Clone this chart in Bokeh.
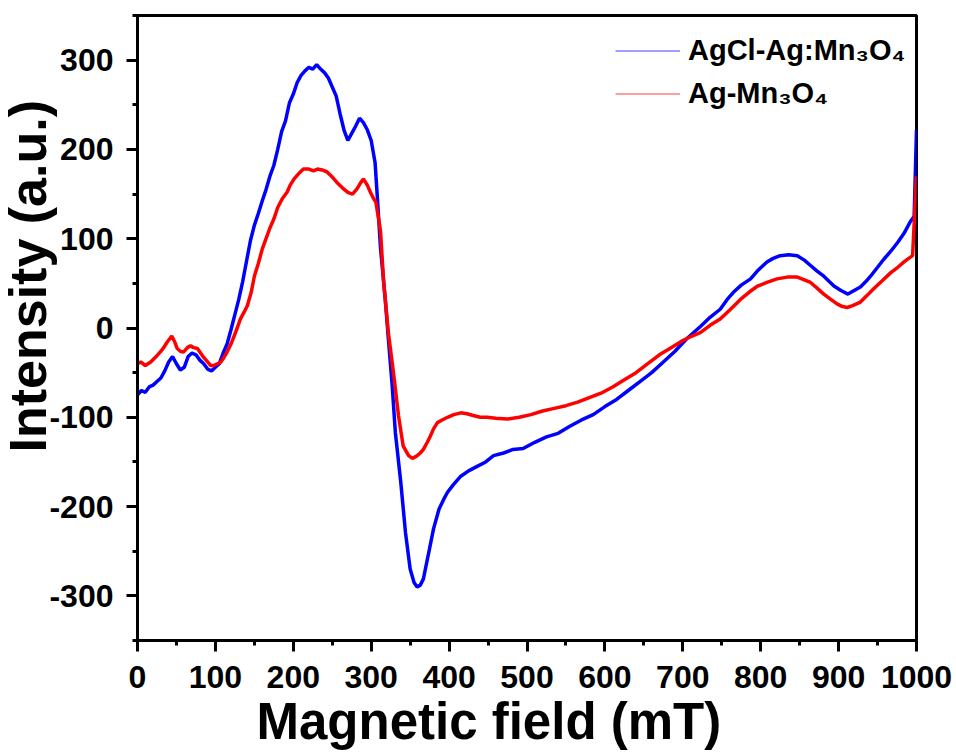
from bokeh.plotting import figure
from bokeh.models import Range1d, FixedTicker, Legend, LegendItem, Title
from bokeh.embed import file_html
from bokeh.resources import INLINE

# AgCl-Ag:Mn3O4 (blue)
blue_x = [0, 5, 10, 15, 20, 25, 30, 35, 40, 45, 50, 55, 60, 65, 70, 75, 80, 85, 90, 95,
          100, 105, 110, 115, 120, 125, 130, 135, 140, 145, 150, 155, 160, 165, 170, 175,
          180, 185, 190, 195, 200, 205, 210, 215, 220, 225, 230, 235, 240, 245, 250, 255,
          260, 265, 270, 275, 280, 285, 290, 295, 300, 305, 308, 312, 318, 322, 327, 331,
          338, 344, 350, 355, 359, 363, 367, 370, 374, 380, 387, 393, 398, 405, 415, 425,
          436, 447, 457, 470, 482, 495, 510, 525, 540, 555, 570, 585, 600, 615, 630, 645,
          660, 675, 690, 705, 723, 735, 748, 757, 765, 775, 787, 797, 808, 816, 825, 836,
          847, 856, 864, 872, 881, 888, 894, 903, 912, 920, 928, 935, 941, 950, 958, 967,
          976, 984, 992, 997, 1000]
blue_y = [-75, -70, -72, -66, -64, -60, -56, -48, -38, -32, -40, -47, -44, -32, -28, -30, -36, -40, -46, -48,
          -44, -40, -28, -18, -2, 15, 32, 52, 75, 98, 115, 128, 142, 155, 170, 182,
          200, 220, 232, 252, 262, 275, 283, 288, 292, 290, 295, 290, 286, 280, 270, 260,
          240, 222, 210, 218, 226, 235, 230, 222, 210, 185, 145, 89, 33, -12, -65, -117,
          -173, -229, -270, -285, -290, -288, -281, -268, -251, -225, -203, -192, -184, -176, -166, -160,
          -155, -150, -143, -140, -136, -135, -128, -122, -118, -110, -103, -97, -88, -80, -70, -60,
          -50, -38, -26, -12, 2, 12, 21, 32, 40, 48, 55, 65, 74, 78, 81, 82,
          81, 76, 70, 64, 58, 52, 47, 42, 38, 42, 46, 52, 58, 68, 77, 86,
          96, 106, 119, 125, 222]

# Ag-Mn3O4 (red)
red_x = [0, 4, 10, 17, 25, 32, 38, 44, 48, 51, 55, 59, 64, 68, 72, 77, 81, 85, 90, 94,
         98, 103, 107, 111, 115, 120, 124, 128, 132, 137, 141, 146, 150, 155, 160, 165,
         170, 175, 180, 186, 192, 196, 201, 207, 213, 220, 226, 231, 237, 243, 249, 256,
         263, 270, 276, 282, 286, 290, 295, 299, 303, 306, 309, 312, 316, 322, 329, 335,
         341, 348, 353, 359, 363, 367, 372, 376, 380, 385, 391, 398, 406, 415, 423, 431,
         440, 449, 460, 475, 490, 505, 520, 535, 550, 565, 580, 595, 610, 625, 640, 655,
         670, 685, 700, 712, 723, 735, 748, 760, 774, 785, 796, 808, 821, 834, 847, 856,
         864, 872, 881, 890, 898, 905, 911, 918, 928, 936, 945, 956, 967, 976, 984, 990,
         995, 1000]
red_y = [-40, -38, -42, -38, -31, -24, -16, -9, -16, -23, -26, -27, -22, -20, -22, -23, -28, -33, -38, -42,
         -42, -40, -38, -33, -27, -18, -9, 0, 10, 18, 25, 40, 58, 72, 88, 100,
         112, 122, 135, 145, 152, 160, 167, 173, 178, 178, 176, 178, 177, 175, 170, 163,
         157, 152, 150, 156, 162, 167, 160, 152, 145, 141, 125, 108, 51, -5, -53, -98,
         -132, -143, -146, -143, -140, -136, -128, -121, -113, -106, -103, -100, -97, -95, -96, -98,
         -100, -100, -101, -102, -100, -97, -93, -90, -87, -83, -78, -73, -66, -58, -50, -40,
         -30, -22, -14, -9, -5, 3, 10, 20, 32, 40, 47, 51, 55, 57, 57, 54,
         51, 45, 38, 32, 27, 24, 23, 25, 29, 36, 44, 53, 62, 68, 74, 78,
         81, 170]

x_ticks = [0, 100, 200, 300, 400, 500, 600, 700, 800, 900, 1000]
x_minor = [50, 150, 250, 350, 450, 550, 650, 750, 850, 950]
y_ticks = [-300, -200, -100, 0, 100, 200, 300]
y_minor = [-350, -250, -150, -50, 50, 150, 250, 350]

labels = ["AgCl-Ag:Mn\u2083O\u2084", "Ag-Mn\u2083O\u2084"]
colors = ["#0000ff", "#ff0000"]
x_title = "Magnetic field (mT)"
y_title = "Intensity (a.u.)"

FONT = "Liberation Sans"

p = figure(width=956, height=752, x_range=Range1d(0, 1000), y_range=Range1d(-350, 350),
           output_backend="svg", toolbar_location=None,
           min_border_left=137, min_border_right=40, min_border_top=15, min_border_bottom=112)

p.xgrid.visible = False
p.ygrid.visible = False
p.outline_line_color = "black"
p.outline_line_width = 3
p.outline_line_alpha = 1.0

# thin copies used only as legend glyphs (hidden under the thick lines)
lb = p.line(blue_x, blue_y, line_color=colors[0], line_width=1.2, line_alpha=0.75)
lr = p.line(red_x, red_y, line_color=colors[1], line_width=1.2, line_alpha=0.75)
p.line(blue_x, blue_y, line_color=colors[0], line_width=3.5)
p.line(red_x, red_y, line_color=colors[1], line_width=3.5)

for ax in (p.xaxis[0], p.yaxis[0]):
    ax.axis_line_width = 3
    ax.axis_line_color = "black"
    ax.major_tick_line_width = 3
    ax.minor_tick_line_width = 3
    ax.major_tick_in = 0
    ax.major_tick_out = 11
    ax.minor_tick_in = 0
    ax.minor_tick_out = 5
    ax.major_label_text_font = FONT
    ax.major_label_text_font_style = "bold"
    ax.major_label_text_font_size = "32px"
    ax.major_label_text_color = "black"

p.xaxis.ticker = FixedTicker(ticks=x_ticks, minor_ticks=x_minor)
p.yaxis.ticker = FixedTicker(ticks=y_ticks, minor_ticks=y_minor)
p.yaxis.major_label_overrides = {t: str(t) for t in y_ticks}
p.xaxis.major_label_standoff = 14
p.yaxis.major_label_standoff = 13

p.add_layout(Title(text=x_title, align="left", offset=119, standoff=0, vertical_align="bottom",
                   text_font=FONT, text_font_style="bold", text_font_size="51px",
                   text_color="black"), "below")
p.add_layout(Title(text=y_title, align="left", offset=188, standoff=-20, vertical_align="bottom",
                   text_font=FONT, text_font_style="bold", text_font_size="52px",
                   text_color="black"), "left")

legend = Legend(items=[LegendItem(label=labels[0], renderers=[lb]),
                       LegendItem(label=labels[1], renderers=[lr])],
                location=(478, 530), glyph_width=65, glyph_height=33, label_height=33,
                spacing=10, padding=0, margin=0, label_standoff=8,
                border_line_color=None, background_fill_alpha=0,
                label_text_font=FONT, label_text_font_style="bold",
                label_text_font_size="29px", label_text_color="black")
p.add_layout(legend)

open("out.html", "w").write(file_html(p, INLINE))
